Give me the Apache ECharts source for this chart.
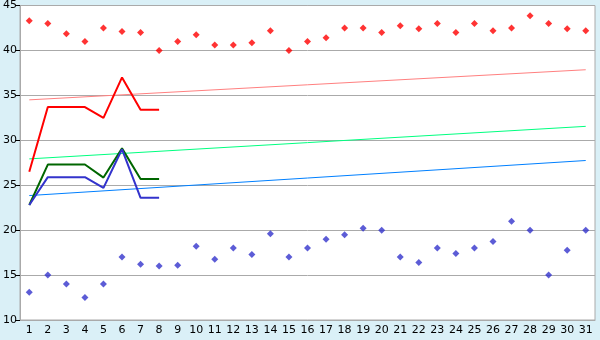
<!DOCTYPE html>
<html>
<head>
<meta charset="utf-8">
<script src="https://cdn.jsdelivr.net/npm/echarts@6/dist/echarts.min.js"></script>
<style>
html,body{margin:0;padding:0;background:#DAF0F7;}
#c{width:600px;height:340px;}
</style>
</head>
<body>
<div id="c"></div>
<script>
const days = ['1','2','3','4','5','6','7','8','9','10','11','12','13','14','15','16','17','18','19','20','21','22','23','24','25','26','27','28','29','30','31'];
const highPoints = [43.3,43.0,41.85,41.0,42.5,42.1,42.0,40.0,41.0,41.75,40.6,40.6,40.85,42.2,40.0,41.0,41.4,42.5,42.5,42.0,42.75,42.4,43.0,42.0,43.0,42.2,42.5,43.85,43.0,42.4,42.2];
const lowPoints = [13.1,15.0,14.0,12.5,14.0,17.0,16.2,16.0,16.1,18.2,16.75,18.0,17.3,19.6,17.0,18.0,19.0,19.5,20.2,20.0,17.0,16.4,18.0,17.4,18.0,18.75,21.0,20.0,15.0,17.75,20.0];
const redLine = [26.5,33.7,33.7,33.7,32.5,37.0,33.4,33.4];
const greenLine = [22.8,27.3,27.3,27.3,25.85,29.1,25.7,25.7];
const blueLine = [22.8,25.9,25.9,25.9,24.7,29.0,23.6,23.6];
// trend line endpoints [day 1, day 31]
const redTrend = [34.5,37.85];
const greenTrend = [27.93,31.55];
const blueTrend = [23.85,27.75];

function trend(ends){
  const d = days.map(()=>null);
  d[0]=ends[0]; d[days.length-1]=ends[1];
  return d;
}
const chart = echarts.init(document.getElementById('c'));
const lineBase = {type:'line', symbol:'none', silent:true, animation:false};
chart.setOption({
  backgroundColor:'#DAF0F7',
  animation:false,
  grid:{left:20,right:5,top:5,bottom:20,show:true,backgroundColor:'#ffffff',borderColor:'#AAAAAA',borderWidth:1},
  xAxis:{type:'category',data:days,boundaryGap:true,
    axisLine:{lineStyle:{color:'#AAAAAA',width:1}},
    axisTick:{alignWithLabel:true,length:5,lineStyle:{color:'#000000'}},
    axisLabel:{color:'#000',fontSize:11,fontFamily:'DejaVu Sans',margin:5,interval:0},
    splitLine:{show:false}},
  yAxis:{type:'value',min:10,max:45,interval:5,
    axisLine:{show:true,lineStyle:{color:'#AAAAAA',width:1}},
    axisTick:{show:true,length:5,lineStyle:{color:'#000000'}},
    axisLabel:{color:'#000',fontSize:11,fontFamily:'DejaVu Sans',margin:3},
    splitLine:{lineStyle:{color:'#AAAAAA',width:1}}},
  series:[
    Object.assign({},lineBase,{data:trend(redTrend),connectNulls:true,lineStyle:{color:'#FF8080',width:1}}),
    Object.assign({},lineBase,{data:trend(greenTrend),connectNulls:true,lineStyle:{color:'#00FF80',width:1}}),
    Object.assign({},lineBase,{data:trend(blueTrend),connectNulls:true,lineStyle:{color:'#0080FF',width:1}}),
    Object.assign({},lineBase,{data:redLine,lineStyle:{color:'#FF0000',width:2}}),
    Object.assign({},lineBase,{data:greenLine,lineStyle:{color:'#006600',width:2}}),
    Object.assign({},lineBase,{data:blueLine,lineStyle:{color:'#3333CC',width:2}}),
    {type:'scatter',data:highPoints,symbol:'diamond',symbolSize:7,itemStyle:{color:'#FF0000'},silent:true},
    {type:'scatter',data:lowPoints,symbol:'diamond',symbolSize:7,itemStyle:{color:'#3333CC'},silent:true}
  ]
});
</script>
</body>
</html>
